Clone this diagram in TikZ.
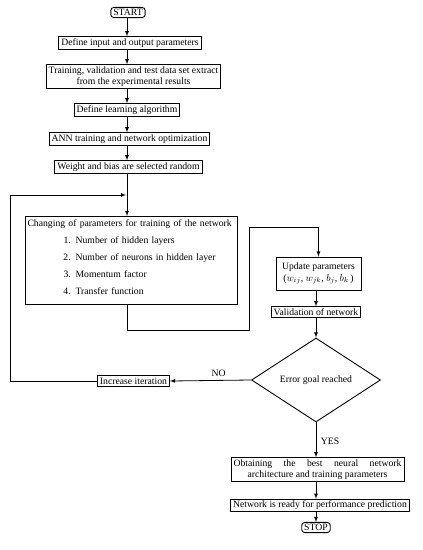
\documentclass[tikz,border=0pt]{standalone}
\usepackage{fontspec}
\setmainfont{Liberation Serif}
\usepackage{tikz}
\usetikzlibrary{shapes.geometric,calc,positioning}
\newcommand\flowfont{\fontsize{9.7}{11.2}\selectfont}
\tikzset{
  stepbox/.style={draw, line width=0.9pt, inner xsep=2.5pt, inner ysep=1.8pt, font=\flowfont},
  termbox/.style={stepbox, rounded corners=3pt},
  decbox/.style={draw, diamond, line width=0.9pt, minimum width=129pt,
    minimum height=84pt, inner sep=0pt, font=\flowfont},
  lbl/.style={draw=none, inner sep=0.5pt, font=\flowfont},
  flow/.style={black, line width=0.8pt, -latex}
}

\begin{document}
\begin{tikzpicture}[x=1pt,y=-1pt]
\useasboundingbox (0,0) rectangle (423,550);

% left column
\node[termbox](start) at (128,12.5) {START};
\node[stepbox](def) at (130,43) {Define input and output parameters};
\node[stepbox, align=center](data) at (133.5,76.5)
{Training, validation and test data set extract\\from the experimental results};
\node[stepbox](alg) at (127,110) {Define learning algorithm};
\node[stepbox](ann) at (129.5,139) {ANN training and network optimization};
\node[stepbox](wgt) at (128.5,167) {Weight and bias are selected random};

\node[stepbox, minimum width=212pt, text width=207pt,
  align=left, inner xsep=2.5pt, inner ysep=3pt, anchor=north](chg) at (131,216)
{Changing of parameters for training of the network\\[5.8pt]
\hspace*{36pt}1. Number of hidden layers\\[5.8pt]
\hspace*{36pt}2. Number of neurons in hidden layer\\[5.8pt]
\hspace*{36pt}3. Momentum factor\\[5.8pt]
\hspace*{36pt}4. Transfer function\\[-4.2pt]\mbox{}};

% right column
\node[stepbox, align=center, minimum width=85pt, minimum height=33pt](upd) at (318.5,273.5)
{Update parameters\\($w_{ij}$, $w_{jk}$, $b_j$, $b_k$\,)};
\node[stepbox](val) at (316,312) {Validation of network};
\node[decbox](goal) at (316,380) {Error goal reached};
\node[stepbox](inc) at (133.5,381) {Increase iteration};
\node[stepbox, align=center](obt) at (317.5,469.5)
{\makebox[168pt][s]{Obtaining the best neural network}\\
\makebox[168pt][c]{architecture and training parameters}};
\node[stepbox](rdy) at (320,505.5) {Network is ready for performance prediction};
\node[termbox](stop) at (316,527.5) {STOP};

\coordinate (jn) at (127,195);
\coordinate (lp) at (10,381);
\coordinate (ra) at (249,330);
\coordinate (rb) at (249,227);

\foreach \a/\b in {start/def, def/data, data/alg, alg/ann, ann/wgt}
  \draw[flow] (jn |- \a.south) -- (jn |- \b.north);
\draw[flow] (jn |- wgt.south) -- (jn |- chg.north);
\draw[flow] (jn |- chg.south) |- (ra) -- (rb) -| (upd.north);
\draw[flow] (goal |- upd.south) -- (goal |- val.north);
\draw[flow] (val.south -| goal) -- (goal.north);
\draw[flow] (goal.west) -- node[lbl, above=3pt, pos=0.4]{NO} (inc.east);
\draw[flow] (inc.west) -- (lp) |- ($(jn)+(-1,0)$);
\draw[flow] (goal.south) -- node[lbl, right=4pt, pos=0.55]{YES} (goal |- obt.north);
\draw[flow] (goal |- obt.south) -- (goal |- rdy.north);
\draw[flow] (goal |- rdy.south) -- (stop.north);
\end{tikzpicture}
\end{document}
